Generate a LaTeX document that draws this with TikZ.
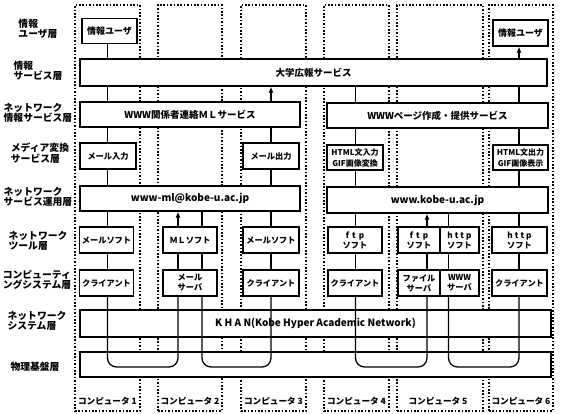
\documentclass[tikz,border=0pt]{standalone}
\usepackage{fontspec}
\setmainfont{Noto Sans CJK JP}[BoldFont={Noto Sans CJK JP Black}]
\usetikzlibrary{arrows.meta}
\begin{document}
\begin{tikzpicture}[x=1pt,y=-1pt,
  colbox/.style={draw, line width=1.1pt, dash pattern=on 1.6pt off 1.8pt, inner sep=0pt},
  box/.style={draw, line width=1.3pt, fill=white, inner sep=0pt, align=center,
     font=\bfseries\fontsize{8.2}{10}\selectfont},
  widebox/.style={box, font=\bfseries\fontsize{9.5}{11}\selectfont},
  layer/.style={align=left, font=\bfseries\fontsize{9.8}{10.5}\selectfont, inner sep=0pt},
  pc/.style={font=\bfseries\fontsize{8.6}{10}\selectfont, inner sep=0pt},
  conn/.style={line width=1.3pt},
  arr/.style={line width=1.3pt, -{Latex[length=6pt,width=5pt]}}]
\useasboundingbox (0,0) rectangle (562,413);
% computer columns
\node[colbox, minimum width=65pt, minimum height=406pt] (col1) at (107.5,208) {};
\node[colbox, minimum width=64pt, minimum height=406pt] (col2) at (190,208) {};
\node[colbox, minimum width=65pt, minimum height=406pt] (col3) at (273.5,208) {};
\node[colbox, minimum width=65pt, minimum height=406pt] (col4) at (356.5,208) {};
\node[colbox, minimum width=86pt, minimum height=406pt] (col5) at (440,208) {};
\node[colbox, minimum width=64pt, minimum height=406pt] (col6) at (521,208) {};
% computer labels
\node[pc] (pc1) at (107.5,401) {コンピュータ 1};
\node[pc] (pc2) at (190,401) {コンピュータ 2};
\node[pc] (pc3) at (273.5,401) {コンピュータ 3};
\node[pc] (pc4) at (356.5,401) {コンピュータ 4};
\node[pc] (pc5) at (438,401) {コンピュータ 5};
\node[pc] (pc6) at (521,401) {コンピュータ 6};
% layer labels
\node[layer] (l1) at (38,29) {情報\\ユーザ層};
\node[layer] (l2) at (38,71) {情報\\サービス層};
\node[layer] (l3) at (38,113) {ネットワーク\\情報サービス層};
\node[layer] (l4) at (40,153) {メディア変換\\サービス層};
\node[layer] (l5) at (38,197) {ネットワーク\\サービス運用層};
\node[layer] (l6) at (38,241) {ネットワーク\\ツール層};
\node[layer] (l7) at (37,280) {コンピューティ\\ングシステム層};
\node[layer] (l8) at (37,321) {ネットワーク\\システム層};
\node[layer] (l9) at (35,367) {物理基盤層};
% row 1
\node[box, minimum width=55pt, minimum height=25pt, font=\bfseries\fontsize{9}{10}\selectfont] (u1) at (109.5,31) {情報ユーザ};
\node[box, minimum width=55pt, minimum height=26pt, font=\bfseries\fontsize{9}{10}\selectfont] (u6) at (520.5,33) {情報ユーザ};
% row 2
\node[widebox, minimum width=467pt, minimum height=27pt] (kouhou) at (313.5,72.5) {大学広報サービス};
% row 3
\node[widebox, minimum width=220pt, minimum height=25pt] (wml) at (190,114.5) {WWW関係者連絡ＭＬサービス};
\node[widebox, minimum width=221pt, minimum height=25pt] (wwwp) at (437.5,115.5) {WWWページ作成・提供サービス};
% row 4
\node[box, minimum width=56pt, minimum height=26pt] (min) at (108,156) {メール入力};
\node[box, minimum width=56pt, minimum height=26pt] (mout) at (271,156) {メール出力};
\node[box, minimum width=56pt, minimum height=25pt, font=\bfseries\fontsize{8}{11}\selectfont] (hin) at (355,157.5) {HTML文入力\\GIF画像変換};
\node[box, minimum width=55pt, minimum height=25pt, font=\bfseries\fontsize{8}{11}\selectfont] (hout) at (520.5,157.5) {HTML文出力\\GIF画像表示};
% row 5
\node[widebox, minimum width=220pt, minimum height=25pt, font=\bfseries\fontsize{10}{11}\selectfont] (wmladdr) at (190,198.5) {www-ml@kobe-u.ac.jp};
\node[widebox, minimum width=221pt, minimum height=26pt, font=\bfseries\fontsize{10}{11}\selectfont] (wwwaddr) at (437.5,200) {www.kobe-u.ac.jp};
% row 6
\node[box, minimum width=54pt, minimum height=26pt] (ms1) at (106.5,240) {メールソフト};
\node[box, minimum width=54pt, minimum height=26pt] (mls) at (190,240) {ＭＬソフト};
\node[box, minimum width=56pt, minimum height=26pt] (ms3) at (271,240) {メールソフト};
\node[box, minimum width=54pt, minimum height=26pt] (ftp4) at (355,240) {f\kern3pt t\kern3pt p\\ソフト};
\node[box, minimum width=42pt, minimum height=26pt] (ftp5) at (419,240) {f\kern3pt t\kern3pt p\\ソフト};
\node[box, minimum width=39pt, minimum height=26pt] (http5) at (459.5,240) {h\kern2pt t\kern2pt t\kern2pt p\\ソフト};
\node[box, minimum width=55pt, minimum height=26pt] (http6) at (519.5,240) {h\kern2pt t\kern2pt t\kern2pt p\\ソフト};
% row 7
\node[box, minimum width=54pt, minimum height=26pt] (cl1) at (106.5,283) {クライアント};
\node[box, minimum width=54pt, minimum height=26pt] (msv) at (190,283) {メール\\サーバ};
\node[box, minimum width=56pt, minimum height=26pt] (cl3) at (271,283) {クライアント};
\node[box, minimum width=54pt, minimum height=26pt] (cl4) at (355,283) {クライアント};
\node[box, minimum width=42pt, minimum height=26pt] (fsv) at (419,283) {ファイル\\サーバ};
\node[box, minimum width=39pt, minimum height=26pt] (wsv) at (459.5,283) {WWW\\サーバ};
\node[box, minimum width=55pt, minimum height=26pt] (cl6) at (519.5,283) {クライアント};
% rows 8, 9
\node[widebox, minimum width=471pt, minimum height=27pt, font=\bfseries\fontsize{10}{11}\selectfont] (khan) at (315.5,323.5) {K H A N(Kobe Hyper Academic Network)};
\node[widebox, minimum width=471pt, minimum height=25pt] (phys) at (315.5,364.5) {};
% line positions
\coordinate (x1) at (107.5,0);
\coordinate (x2a) at (178,0);
\coordinate (x2b) at (202,0);
\coordinate (x3) at (271,0);
\coordinate (x4) at (355.5,0);
\coordinate (x5a) at (427,0);
\coordinate (x5b) at (448.5,0);
\coordinate (x6) at (519,0);
\coordinate (ub) at (0,367);
% column 1
\draw[conn] (x1 |- u1.south) -- (x1 |- kouhou.north);
\draw[conn] (x1 |- kouhou.south) -- (x1 |- wml.north);
\draw[conn] (x1 |- wml.south) -- (x1 |- min.north);
\draw[conn] (x1 |- min.south) -- (x1 |- wmladdr.north);
\draw[conn] (x1 |- wmladdr.south) -- (x1 |- ms1.north);
\draw[conn] (x1 |- ms1.south) -- (x1 |- cl1.north);
\draw[conn, rounded corners=9pt] (x1 |- cl1.south) -- (x1 |- ub) -- (x2a |- ub) -- (x2a |- msv.south);
% column 2
\draw[arr] (x2a |- mls.north) -- (x2a |- wmladdr.south);
\draw[conn] (x2b |- wmladdr.south) -- (x2b |- mls.north);
\draw[conn] (x2a |- mls.south) -- (x2a |- msv.north);
\draw[conn] (x2b |- mls.south) -- (x2b |- msv.north);
\draw[conn, rounded corners=9pt] (x2b |- msv.south) -- (x2b |- ub) -- (x3 |- ub) -- (x3 |- cl3.south);
% column 3
\draw[arr] (x3 |- wml.north) -- (x3 |- kouhou.south);
\draw[conn] (x3 |- wml.south) -- (x3 |- mout.north);
\draw[conn] (x3 |- mout.south) -- (x3 |- wmladdr.north);
\draw[conn] (x3 |- wmladdr.south) -- (x3 |- ms3.north);
\draw[conn] (x3 |- ms3.south) -- (x3 |- cl3.north);
% column 4
\draw[conn] (x4 |- kouhou.south) -- (x4 |- wwwp.north);
\draw[conn] (x4 |- wwwp.south) -- (x4 |- hin.north);
\draw[conn] (x4 |- hin.south) -- (x4 |- wwwaddr.north);
\draw[conn] (x4 |- wwwaddr.south) -- (x4 |- ftp4.north);
\draw[conn] (x4 |- ftp4.south) -- (x4 |- cl4.north);
\draw[conn, rounded corners=9pt] (x4 |- cl4.south) -- (x4 |- ub) -- (x5a |- ub) -- (x5a |- fsv.south);
% column 5
\draw[arr] (x5a |- ftp5.north) -- (x5a |- wwwaddr.south);
\draw[conn] (x5b |- wwwaddr.south) -- (x5b |- http5.north);
\draw[conn] (x5a |- ftp5.south) -- (x5a |- fsv.north);
\draw[conn] (x5b |- http5.south) -- (x5b |- wsv.north);
\draw[conn, rounded corners=9pt] (x5b |- wsv.south) -- (x5b |- ub) -- (x6 |- ub) -- (x6 |- cl6.south);
% column 6
\draw[arr] (x6 |- kouhou.north) -- (x6 |- u6.south);
\draw[conn] (x6 |- kouhou.south) -- (x6 |- wwwp.north);
\draw[conn] (x6 |- wwwp.south) -- (x6 |- hout.north);
\draw[conn] (x6 |- hout.south) -- (x6 |- wwwaddr.north);
\draw[conn] (x6 |- wwwaddr.south) -- (x6 |- http6.north);
\draw[conn] (x6 |- http6.south) -- (x6 |- cl6.north);
\end{tikzpicture}
\end{document}
